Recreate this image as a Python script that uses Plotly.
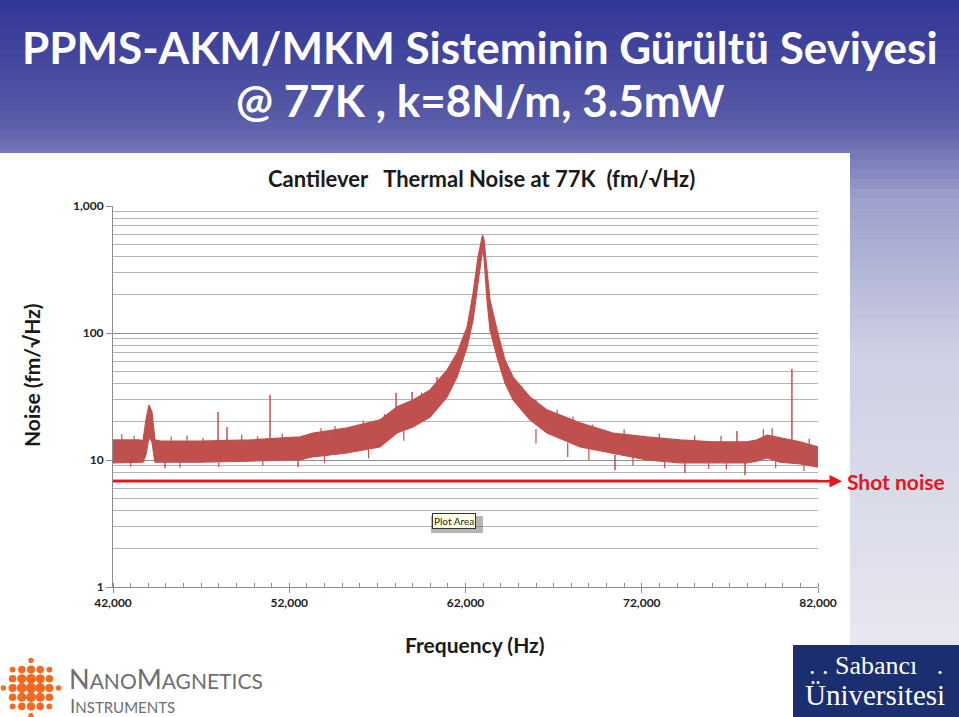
import math
import plotly.graph_objects as go

# ---------------- data ----------------
freq_env = [42000, 43530, 43700, 43870, 44040, 44210, 44380, 44670, 46940, 49770,
            52610, 53350, 55280, 57150, 58110, 59020, 59990, 60950, 61520, 62090,
            62430, 62710, 62965, 63050, 63220, 63390, 63790, 64240, 64700, 65660,
            66620, 68500, 70370, 72300, 74170, 76040, 77970, 78540, 79110, 79840,
            80980, 82000]
noise_upper = [14.4, 14.4, 14.1, 20.7, 27.1, 23.9, 14.4, 14.1, 14.1, 14.4,
               15.2, 16.3, 17.9, 20.7, 26.2, 29.7, 35.6, 51.1, 69.6, 111.5,
               206.5, 396, 591, 540, 313, 182, 105.6, 61.3, 45.0, 31.3,
               24.8, 19.6, 16.3, 15.2, 14.4, 13.9, 13.9, 14.4, 15.7, 14.9,
               13.9, 12.7]
noise_lower = [9.5, 9.6, 9.6, 11.0, 15.2, 13.9, 9.6, 9.6, 9.6, 9.8,
               10.0, 10.6, 11.35, 12.7, 16.3, 18.2, 21.8, 31.3, 45.0, 77.6,
               126.6, 247.6, 450, 389, 182, 105.6, 64.7, 40.4, 29.7, 20.7,
               16.3, 12.7, 11.35, 10.0, 9.5, 9.5, 9.5, 9.8, 10.4, 9.6,
               9.3, 8.8]

# isolated spurs
spike_freq = [47960, 48470, 50910, 58060, 58970, 60380, 77400, 80520]
spike_top = [23.9, 18.2, 32.5, 33.7, 34.3, 45.0, 16.9, 52.1]
spike_base = [12.0, 12.0, 12.0, 20.0, 23.0, 28.0, 12.0, 12.0]

dip_freq = [44950, 52500, 70480, 74450, 77860]
dip_bottom = [8.6, 8.8, 8.3, 7.9, 7.6]
dip_base = [11.0, 11.0, 11.0, 11.0, 11.0]

# short noise hairs sticking out of the band
fuzz_up_freq = [42500, 43200, 45300, 46200, 47100, 49300, 50200, 51600, 53800, 54600,
                56200, 57400, 59500, 60700, 65200, 66000, 67200, 68100, 69200, 71000,
                73000, 75000, 76500, 78900, 79400, 81500]
fuzz_up_top = [16.0, 15.5, 15.3, 15.6, 15.0, 15.8, 15.4, 16.2, 17.8, 18.5,
               20.5, 23.0, 34.0, 45.0, 38.0, 30.0, 25.0, 22.0, 19.0, 17.5,
               16.2, 15.6, 15.5, 17.5, 17.8, 14.8]
fuzz_down_freq = [43000, 45800, 48000, 50500, 54000, 56500, 58500, 66000, 67800, 69000,
                  71500, 73300, 75800, 76800, 79600, 81200]
fuzz_down_bottom = [8.9, 8.7, 8.8, 9.0, 9.5, 10.3, 14.2, 13.5, 10.5, 10.0,
                    9.0, 8.6, 8.5, 8.4, 8.6, 8.2]

shot_noise_level = 6.8

x_ticks = [42000, 52000, 62000, 72000, 82000]
x_tick_labels = ["42,000", "52,000", "62,000", "72,000", "82,000"]
y_ticks = [1, 10, 100, 1000]
y_tick_labels = ["1", "10", "100", "1,000"]

# ---------------- styling ----------------
W, H = 959, 717
L, R, T, B = 113, 818, 206, 587
RED = "#c0504d"
SHOT = "#e8141c"
FONT = "Lato"


def X(px):
    return (px - L) / (R - L)


def Y(py):
    return (B - py) / (B - T)


fig = go.Figure()

fig.add_trace(go.Scatter(x=freq_env, y=noise_lower, mode="lines",
                         line=dict(color=RED, width=1.2), hoverinfo="skip",
                         showlegend=False))
fig.add_trace(go.Scatter(x=freq_env, y=noise_upper, mode="lines",
                         line=dict(color=RED, width=1.2), fill="tonexty",
                         fillcolor=RED, hoverinfo="skip", showlegend=False))

sx, sy = [], []
for f, b, t in zip(spike_freq, spike_base, spike_top):
    sx += [f, f, None]
    sy += [b, t, None]
for f, b, t in zip(dip_freq, dip_base, dip_bottom):
    sx += [f, f, None]
    sy += [b, t, None]
fig.add_trace(go.Scatter(x=sx, y=sy, mode="lines", line=dict(color=RED, width=1.5),
                         hoverinfo="skip", showlegend=False))

hx, hy = [], []
for f, t in zip(fuzz_up_freq, fuzz_up_top):
    hx += [f, f, None]
    hy += [t / 1.3, t, None]
for f, b in zip(fuzz_down_freq, fuzz_down_bottom):
    hx += [f, f, None]
    hy += [b * 1.3, b, None]
fig.add_trace(go.Scatter(x=hx, y=hy, mode="lines", line=dict(color=RED, width=1.2),
                         hoverinfo="skip", showlegend=False))

fig.add_trace(go.Scatter(x=[x_ticks[0], x_ticks[-1]],
                         y=[shot_noise_level, shot_noise_level], mode="lines",
                         line=dict(color=SHOT, width=2.5), hoverinfo="skip",
                         showlegend=False))

# ---------------- background shapes ----------------
shapes = []
stops = [(0, (50, 54, 150)), (120, (88, 91, 168)), (200, (158, 160, 204)),
         (350, (206, 208, 228)), (717, (238, 238, 243))]


def grad(py):
    for (a, ca), (b, cb) in zip(stops[:-1], stops[1:]):
        if a <= py <= b:
            t = (py - a) / (b - a)
            return tuple(int(ca[i] + (cb[i] - ca[i]) * t) for i in range(3))
    return stops[-1][1]


n = 72
for i in range(n):
    y0 = i * H / n
    y1 = (i + 1) * H / n + 0.6
    c = grad((y0 + y1) / 2)
    shapes.append(dict(type="rect", xref="paper", yref="paper", layer="below",
                       x0=X(0), x1=X(W), y0=Y(y1), y1=Y(y0),
                       fillcolor="rgb(%d,%d,%d)" % c, line=dict(width=0)))
shapes.append(dict(type="rect", xref="paper", yref="paper", layer="below",
                   x0=X(0), x1=X(850), y0=Y(H), y1=Y(153),
                   fillcolor="white", line=dict(width=0)))
shapes.append(dict(type="rect", xref="paper", yref="paper", layer="below",
                   x0=X(0), x1=X(793), y0=Y(H), y1=Y(645),
                   fillcolor="white", line=dict(width=0)))
shapes.append(dict(type="rect", xref="paper", yref="paper", layer="below",
                   x0=X(793), x1=X(W), y0=Y(H), y1=Y(645),
                   fillcolor="#1b2f70", line=dict(width=0)))
# Plot Area tooltip shadow
shapes.append(dict(type="rect", xref="paper", yref="paper", layer="above",
                   x0=X(431), x1=X(483), y0=Y(533), y1=Y(516),
                   fillcolor="rgba(90,90,90,0.45)", line=dict(width=0)))

# Orange dotted sphere logo
cx, cy, rad = 31, 688, 28
for gi in range(-3, 4):
    for gj in range(-3, 4):
        px = cx + gi * 9.2
        py = cy + gj * 9.2
        d = math.hypot(px - cx, py - cy)
        if d > rad + 1:
            continue
        r = 5.2 * (1 - 0.5 * (d / rad) ** 2)
        shapes.append(dict(type="circle", xref="paper", yref="paper", layer="above",
                           x0=X(px - r), x1=X(px + r), y0=Y(py + r), y1=Y(py - r),
                           fillcolor="#f26a22", line=dict(width=0)))

# ---------------- annotations ----------------
def txt(text, px, py, size, color="#1a1a1a", family=FONT, xanchor="center", **kw):
    d = dict(text=text, x=X(px), y=Y(py), xref="paper", yref="paper",
             showarrow=False, xanchor=xanchor, yanchor="middle",
             font=dict(family=family, size=size, color=color))
    d.update(kw)
    return d


ann = [
    txt("<b>PPMS-AKM/MKM Sisteminin Gürültü Seviyesi</b>", 480, 47, 44, "white"),
    txt("<b>@ 77K , k=8N/m, 3.5mW</b>", 480, 100, 44, "white"),
    txt("<b>Cantilever\u00a0\u00a0 Thermal Noise at 77K\u00a0 (fm/√Hz)</b>", 481, 179, 22),
    txt("<b>Noise (fm/√Hz)</b>", 31, 375, 21, textangle=-90),
    txt("<b>Frequency (Hz)</b>", 475, 644, 21),
    txt("<b>Shot noise</b>", 845, 481, 21, SHOT, xanchor="left"),
    txt("Plot Area", 454, 521, 10, "#222222", bgcolor="#ffffe1",
        bordercolor="#333333", borderwidth=1, borderpad=1),
    txt("N<span style='font-size:21px'>ANO</span>M<span style='font-size:21px'>AGNETICS</span>",
        67, 678, 27, "#6d6e71", xanchor="left"),
    txt("I<span style='font-size:15px'>NSTRUMENTS</span>", 68, 705, 19, "#6d6e71",
        xanchor="left"),
    txt(".\u00a0.\u00a0Sabancı\u00a0\u00a0\u00a0.", 876, 665, 26, "white",
        family="Liberation Serif"),
    txt("Üniversitesi", 875, 695, 29, "white", family="Liberation Serif"),
]
ann.append(dict(text="", x=X(842), y=math.log10(shot_noise_level), xref="paper",
                yref="y", ax=-26, ay=0, showarrow=True, arrowhead=2, arrowsize=1,
                arrowwidth=2.5, arrowcolor=SHOT))

fig.update_layout(
    width=W, height=H,
    margin=dict(l=L, r=W - R, t=T, b=H - B, pad=0),
    paper_bgcolor="white", plot_bgcolor="rgba(0,0,0,0)",
    shapes=shapes, annotations=ann, showlegend=False,
    font=dict(family=FONT),
)
fig.update_xaxes(range=[42000, 82000], tickvals=x_ticks, ticktext=x_tick_labels,
                 showgrid=False, zeroline=False, showline=True, linecolor="#8c8c8c",
                 linewidth=1, ticks="outside", ticklen=5, tickcolor="#8c8c8c",
                 tickfont=dict(family=FONT, size=12, color="#222222", weight="bold"),
                 minor=dict(dtick=1000, ticks="inside", ticklen=4, tickcolor="#8c8c8c",
                            showgrid=False))
minor_vals = [m * 10 ** e for e in range(0, 3) for m in range(2, 10)]
fig.update_yaxes(type="log", range=[0, 3], tickvals=y_ticks, ticktext=y_tick_labels,
                 showgrid=True, gridcolor="#8f8f8f", gridwidth=1, zeroline=False,
                 showline=True, linecolor="#8c8c8c", linewidth=1, ticks="outside",
                 ticklen=6, tickcolor="#8c8c8c",
                 tickfont=dict(family=FONT, size=12, color="#222222", weight="bold"),
                 minor=dict(tickvals=minor_vals, showgrid=True, gridcolor="#b4b4b4",
                            gridwidth=1, ticks=""))

fig.write_html("out.html")
